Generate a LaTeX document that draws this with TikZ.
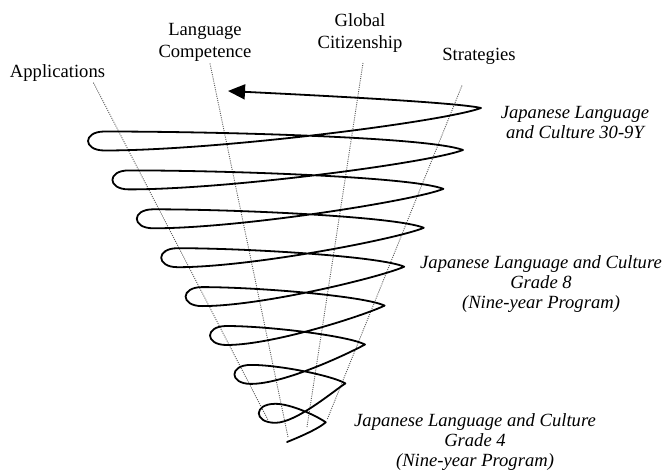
\documentclass[tikz,border=0pt]{standalone}
\usepackage{fontspec}
\setmainfont{Liberation Serif}
\usetikzlibrary{arrows.meta,calc}

\begin{document}
\begin{tikzpicture}[x=0.5pt, y=-0.5pt,
	spiraal/.style={line width=0.9pt, line join=round, line cap=round},
	as/.style={black!65, line width=0.45pt, dash pattern=on 0.5pt off 0.6pt},
	kop/.style={font=\fontsize{9.3}{11}\selectfont, align=center, inner sep=0pt, anchor=north},
	cursus/.style={font=\fontsize{9.3}{10}\selectfont\itshape, align=center, inner sep=0pt, anchor=north}]
	% kader
	\useasboundingbox (0,0) rectangle (665,471);
	
	% labels
	\node[kop] (app)   at (57.5,64) {Applications};
	\node[kop] (taal)  at (205,22.5) {Language\\Competence};
	\node[kop] (burg)  at (360,13.3) {Global\\Citizenship};
	\node[kop] (strat) at (479,47.4) {Strategies};
	
	\node[cursus] (jlc30) at (575,105.8) {Japanese Language\\and Culture 30-9Y};
	\node[cursus] (jlc8)  at (541,254.8) {Japanese Language and Culture\\Grade 8\\(Nine-year Program)};
	\node[cursus] (jlc4)  at (475,412.8) {Japanese Language and Culture\\Grade 4\\(Nine-year Program)};
	
	% assen
	\coordinate (appvoet)   at (268,420);
	\coordinate (taalvoet)  at (288,437);
	\coordinate (burgvoet)  at (307,427);
	\coordinate (stratvoet) at (327,420);
	\draw[as] ($(app.south east)+(-12,1)$) -- (appvoet);
	\draw[as] ($(taal.south)+(5,2)$)       -- (taalvoet);
	\draw[as] ($(burg.south)+(3,10)$)      -- (burgvoet);
	\draw[as] ($(strat.south)+(-17,21)$)   -- (stratvoet);
	
	% spiraal
	\foreach \k in {0,...,8}{
		\coordinate (T\k) at (80.1+24.4*\k, 92.6+38.9*\k);
		\coordinate (B\k) at (80.1+24.4*\k, 111.6+38.9*\k);
		\coordinate (R\k) at (482.6-19.6*\k, 111.1+38.9*\k);
	}
	\coordinate (R0) at (481,108);
	\coordinate (E)  at (287,442);
	\coordinate (A)  at (228,91);
	
	\draw[spiraal, -{Triangle[length=8.5pt, width=7.5pt]}] (E) .. controls +(10,-4) and +(-8,7) .. (R8)
		\foreach \k [evaluate=\k as \km using int(\k-1), evaluate=\k as \w using 402.5-44*\k, evaluate=\k as \v using 422.1-44*\k] in {8,7,...,1}{
			.. controls +(-0.08*\w-6, -6-0.02*\w) and +(0.3*\w, 0) .. (T\k)
			.. controls +(-22,0) and +(-22,0) .. (B\k)
			.. controls +(0.3*\v, 0) and +(-0.08*\v-6, 6+0.02*\v) .. (R\km)
		}
		.. controls +(-25,-6) and +(60,3) .. (A);
\end{tikzpicture}
\end{document}
